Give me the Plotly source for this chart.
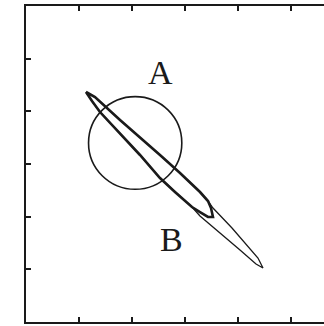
import plotly.graph_objects as go

# curve B, in axis units: shared upper and lower edges, plus the two tips
upper_x = [1.132, 1.302, 1.774, 2.151, 2.528, 2.906, 3.283, 3.434]
upper_y = [4.367, 4.272, 3.835, 3.512, 3.171, 2.829, 2.468, 2.297]

lower_x = [3.132, 2.811, 2.528, 2.151, 1.774, 1.396, 1.245, 1.132]
lower_y = [2.183, 2.468, 2.734, 3.171, 3.588, 3.987, 4.196, 4.367]

inner_tip_x = [3.491, 3.528, 3.434, 3.283]
inner_tip_y = [2.164, 1.994, 1.994, 2.088]

outer_tip_x = [3.528, 3.887, 4.226, 4.377, 4.472, 4.340, 4.038, 3.660, 3.283]
outer_tip_y = [2.164, 1.785, 1.405, 1.215, 1.025, 1.101, 1.367, 1.690, 2.013]

# curve A: circle
circle_center = [2.06, 3.40]
circle_radius = 0.88

labels = ["A", "B"]
label_x = [2.53, 2.75]
label_y = [4.73, 1.56]

tick_vals = [1, 2, 3, 4, 5]

ink = "#1a1a1a"

fig = go.Figure()
# outer (thin) loop
fig.add_trace(go.Scatter(x=upper_x + outer_tip_x + lower_x,
                         y=upper_y + outer_tip_y + lower_y, mode="lines",
                         line=dict(color=ink, width=1.3), showlegend=False))
# inner (thick) loop
fig.add_trace(go.Scatter(x=upper_x + inner_tip_x + lower_x,
                         y=upper_y + inner_tip_y + lower_y, mode="lines",
                         line=dict(color=ink, width=2.6), showlegend=False))
fig.add_shape(type="circle", xref="x", yref="y",
              x0=circle_center[0] - circle_radius, x1=circle_center[0] + circle_radius,
              y0=circle_center[1] - circle_radius, y1=circle_center[1] + circle_radius,
              line=dict(color=ink, width=1.6))

for t, x, y in zip(labels, label_x, label_y):
    fig.add_annotation(x=x, y=y, text=t, showarrow=False,
                       font=dict(family="Liberation Serif", size=34, color=ink))

fig.update_xaxes(range=[0, 5.623], tickvals=tick_vals, showticklabels=False,
                 ticks="inside", ticklen=5, tickwidth=2, tickcolor=ink,
                 showline=True, linecolor=ink, linewidth=2, mirror="ticks",
                 showgrid=False, zeroline=False)
fig.update_yaxes(range=[0, 6], tickvals=tick_vals, showticklabels=False,
                 ticks="inside", ticklen=5, tickwidth=2, tickcolor=ink,
                 showline=True, linecolor=ink, linewidth=2, mirror=False,
                 showgrid=False, zeroline=False)

fig.update_layout(width=324, height=326, margin=dict(l=26, r=0, t=6, b=4),
                  plot_bgcolor="white", paper_bgcolor="white")

# page has a default body margin; remove it so the figure sits at the corner
fig.write_html("out.html", config={"displayModeBar": False},
               post_script="document.body.style.margin='0px';")
